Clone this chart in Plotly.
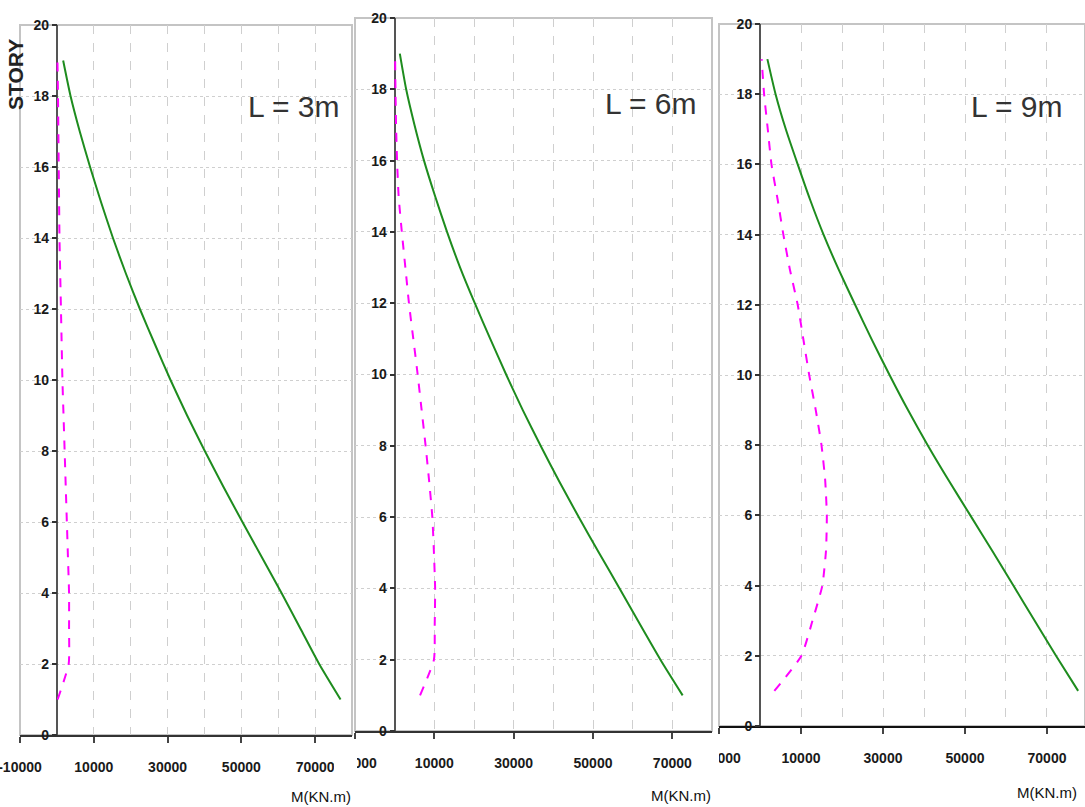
import plotly.graph_objects as go

# ---------------- data ----------------
stories = list(range(1, 20))  # story levels 1..19

# panel L = 3m
green_L3 = [76900, 71100, 66000, 60900, 55600, 50300, 45100, 40100, 35300, 30800,
            26600, 22500, 18700, 15200, 12000, 9000, 6200, 3700, 1700]
pink_L3 = [200, 3200, 3300, 3300, 3000, 2700, 2400, 2100, 1800, 1500,
           1300, 1100, 900, 700, 600, 500, 400, 300, 150]

# panel L = 6m
green_L6 = [72600, 67000, 61800, 56700, 51500, 46400, 41500, 36800, 32300, 28100,
            24100, 20200, 16500, 13200, 10200, 7400, 5000, 2900, 1300]
pink_L6 = [6400, 9900, 10100, 10200, 9900, 9500, 8700, 7800, 6800, 5800,
           4700, 3600, 2700, 1800, 1000, 600, 350, 200, 100]

# panel L = 9m
green_L9 = [77600, 72200, 67000, 61800, 56600, 51300, 46000, 40900, 36100, 31600,
            27300, 23200, 19200, 15500, 12200, 9200, 6300, 3800, 1800]
pink_L9 = [3500, 10100, 12800, 15200, 16100, 16300, 15900, 15000, 13600, 12000,
           10600, 9200, 7300, 5700, 4300, 2800, 1900, 1000, 400]

panel_labels = ["L = 3m", "L = 6m", "L = 9m"]
x_tickvals = [-10000, 10000, 30000, 50000, 70000]
x_ticktext = ["-10000", "10000", "30000", "50000", "70000"]
y_tickvals = [0, 2, 4, 6, 8, 10, 12, 14, 16, 18, 20]
x_title = "M(KN.m)"
y_title = "STORY"

greens = [green_L3, green_L6, green_L9]
pinks = [pink_L3, pink_L6, pink_L9]

# ---------------- layout geometry (pixels of 1085x807 canvas) ----------------
W, H = 1085, 807
panels = [
    dict(px=(20, 352), py=(25, 735), xr=[-10000, 80000]),
    dict(px=(355, 712), py=(18, 731), xr=[-10000, 80000]),
    dict(px=(719, 1085), py=(24, 726), xr=[-10000, 79270]),
]
label_pos = [(293, 106), (650, 103), (1016, 106)]
title_pos = [(321, 796), (681, 795), (1047, 792)]
# masks that hide the left part of the "-10000" tick label where the
# next screenshot panel overlaps the previous one
masks = [(334, 357, 750, 785), (692, 719, 745, 780)]

FONT = "Liberation Sans, Arial, sans-serif"

fig = go.Figure()
layout = dict(
    width=W, height=H, autosize=False,
    margin=dict(l=0, r=0, t=0, b=0, pad=0),
    paper_bgcolor="white", plot_bgcolor="white",
    showlegend=False,
    font=dict(family=FONT, size=13, color="#222"),
    shapes=[], annotations=[],
)

for i, p in enumerate(panels):
    n = "" if i == 0 else str(i + 1)
    xa, ya = "x" + n, "y" + n
    xdom = [p["px"][0] / W, min(p["px"][1] / W, 1.0)]
    ydom = [1 - p["py"][1] / H, 1 - p["py"][0] / H]
    x0_paper = xdom[0] + (0 - p["xr"][0]) / (p["xr"][1] - p["xr"][0]) * (xdom[1] - xdom[0])

    fig.add_trace(go.Scatter(x=pinks[i], y=stories, mode="lines", xaxis=xa, yaxis=ya,
                             line=dict(color="#ff00ff", width=2, dash="dash",
                                       shape="spline", smoothing=0.5), name="pink"))
    fig.add_trace(go.Scatter(x=greens[i], y=stories, mode="lines", xaxis=xa, yaxis=ya,
                             line=dict(color="#1e8c1e", width=2,
                                       shape="spline", smoothing=0.6), name="green"))

    layout["xaxis" + n] = dict(
        domain=xdom, range=p["xr"], anchor=ya, automargin=False,
        tickvals=x_tickvals, ticktext=x_ticktext, ticklabeloverflow="allow",
        ticks="outside", ticklen=6, tickcolor="#444", tickwidth=1.5,
        ticklabelstandoff=12,
        tickfont=dict(family=FONT, size=14, color="#1a1a1a", weight="bold"),
        showgrid=True, gridcolor="#cfcfcf", gridwidth=1, griddash="dash",
        minor=dict(dtick=10000, tick0=0, showgrid=True, gridcolor="#cfcfcf",
                   gridwidth=1, griddash="dash", ticks=""),
        zeroline=True, zerolinecolor="#555", zerolinewidth=1.5,
        showline=True, linecolor="#333" if i < 2 else "#111", linewidth=1.5 if i < 2 else 2,
        mirror=False, fixedrange=True,
    )
    layout["yaxis" + n] = dict(
        domain=ydom, range=[0, 20], anchor="free", position=x0_paper, automargin=False,
        tickvals=y_tickvals, ticks="outside", ticklen=5, tickcolor="#333", tickwidth=2,
        tickfont=dict(family=FONT, size=14, color="#1a1a1a", weight="bold"),
        showgrid=True, gridcolor="#cfcfcf", gridwidth=1.2, griddash="dot",
        zeroline=False, showline=False, fixedrange=True,
    )
    # panel frame
    layout["shapes"].append(dict(type="rect", xref=xa + " domain", yref=ya + " domain",
                                 x0=0, x1=1, y0=0, y1=1, layer="below",
                                 line=dict(color="#c4c4c4", width=2)))
    # panel label
    lx, ly = label_pos[i]
    layout["annotations"].append(dict(text=panel_labels[i], xref="paper", yref="paper",
                                      x=lx / W, y=1 - ly / H, showarrow=False,
                                      xanchor="center", yanchor="middle",
                                      font=dict(family=FONT, size=30, color="#333")))
    tx, ty = title_pos[i]
    layout["annotations"].append(dict(text=x_title, xref="paper", yref="paper",
                                      x=tx / W, y=1 - ty / H, showarrow=False,
                                      xanchor="center", yanchor="middle",
                                      font=dict(family=FONT, size=15, color="#111")))

for (mx0, mx1, my0, my1) in masks:
    layout["shapes"].append(dict(type="rect", xref="paper", yref="paper",
                                 x0=mx0 / W, x1=mx1 / W, y0=1 - my1 / H, y1=1 - my0 / H,
                                 layer="above", fillcolor="white",
                                 line=dict(width=0)))

layout["annotations"].append(dict(text="<b>" + y_title + "</b>", xref="paper", yref="paper",
                                  x=16 / W, y=1 - 75 / H, showarrow=False, textangle=-90,
                                  xanchor="center", yanchor="middle",
                                  font=dict(family=FONT, size=21, color="#222")))

fig.update_layout(**layout)
fig.write_html("out.html", config={"displayModeBar": False},
               post_script="document.body.style.margin='0';document.body.style.overflow='hidden';")
